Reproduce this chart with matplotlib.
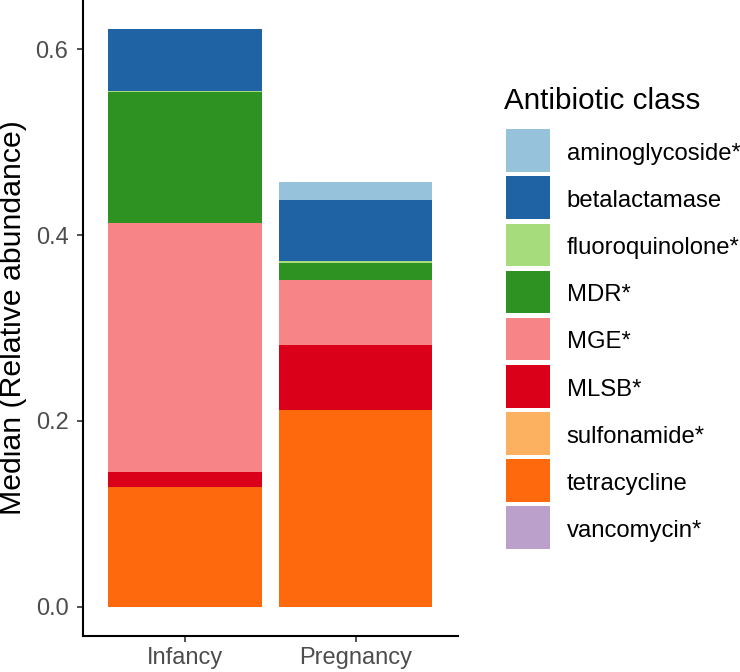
import numpy as np
import matplotlib
matplotlib.use('Agg')
import matplotlib.pyplot as plt
from matplotlib.patches import Rectangle

plt.rcParams['font.family'] = ['Liberation Sans', 'DejaVu Sans']

# Stage on the x axis
stages = ['Infancy', 'Pregnancy']

# Antibiotic classes, legend order (top of stack first)
classes = ['aminoglycoside*', 'betalactamase', 'fluoroquinolone*', 'MDR*', 'MGE*',
           'MLSB*', 'sulfonamide*', 'tetracycline', 'vancomycin*']
colors = ['#96c2db', '#1f63a5', '#a6dc7c', '#2e9222', '#f78587',
          '#da0019', '#fbb15f', '#fd690c', '#bba0cc']

# Median relative abundance per class, [Infancy, Pregnancy]
aminoglycoside = [0.0, 0.019]
betalactamase = [0.066, 0.066]
fluoroquinolone = [0.002, 0.0015]
mdr = [0.141, 0.019]
mge = [0.267, 0.0695]
mlsb = [0.0165, 0.0705]
sulfonamide = [0.0, 0.0]
tetracycline = [0.129, 0.2115]
vancomycin = [0.0, 0.0]

values = [aminoglycoside, betalactamase, fluoroquinolone, mdr, mge,
          mlsb, sulfonamide, tetracycline, vancomycin]

W, H = 740, 672
fig = plt.figure(figsize=(W / 100, H / 100), dpi=100)
ax = fig.add_axes([82.7 / W, 36.3 / H, (458 - 82.7) / W, (H - 36.3) / H])

x = np.arange(1, len(stages) + 1)
bottom = np.zeros(len(stages))
# ggplot stacks the last level at the bottom
for name, col, vals in reversed(list(zip(classes, colors, values))):
    vals = np.array(vals)
    ax.bar(x, vals, width=0.9, bottom=bottom, color=col, linewidth=0)
    bottom += vals

ax.set_xlim(0.4, 2.6)
ax.set_ylim(-0.0311, 0.653)
ax.set_xticks(x)
ax.set_xticklabels(stages)
ax.set_yticks([0.0, 0.2, 0.4, 0.6])
ax.set_yticklabels(['0.0', '0.2', '0.4', '0.6'])
ax.tick_params(axis='both', labelsize=17, colors='#333333', length=4.3, width=1.2,
               labelcolor='#4d4d4d')
ax.tick_params(axis='y', pad=6)
ax.tick_params(axis='x', pad=3.5)
ax.set_ylabel('Median (Relative abundance)', fontsize=21.8, color='black', labelpad=6)

for s in ['top', 'right']:
    ax.spines[s].set_visible(False)
for s in ['left', 'bottom']:
    ax.spines[s].set_linewidth(1.5)
    ax.spines[s].set_color('black')

# legend drawn by hand, in pixel units from the top-left corner
def fx(px):
    return px / W

def fy(py):
    return 1 - py / H

fig.text(fx(504), fy(109.3), 'Antibiotic class', fontsize=21.3, va='baseline', ha='left')
key_top, key_h, key_w, pitch = 129.3, 42.7, 43.5, 47.1
for i, (name, col) in enumerate(zip(classes, colors)):
    top = key_top + i * pitch
    fig.add_artist(Rectangle((fx(506), fy(top + key_h)), key_w / W, key_h / H,
                             transform=fig.transFigure, facecolor=col, edgecolor='none'))
    fig.text(fx(566.7), fy(top + key_h / 2 + 9.4), name, fontsize=17.2,
             va='baseline', ha='left')

fig.savefig('out.png', dpi=100)
